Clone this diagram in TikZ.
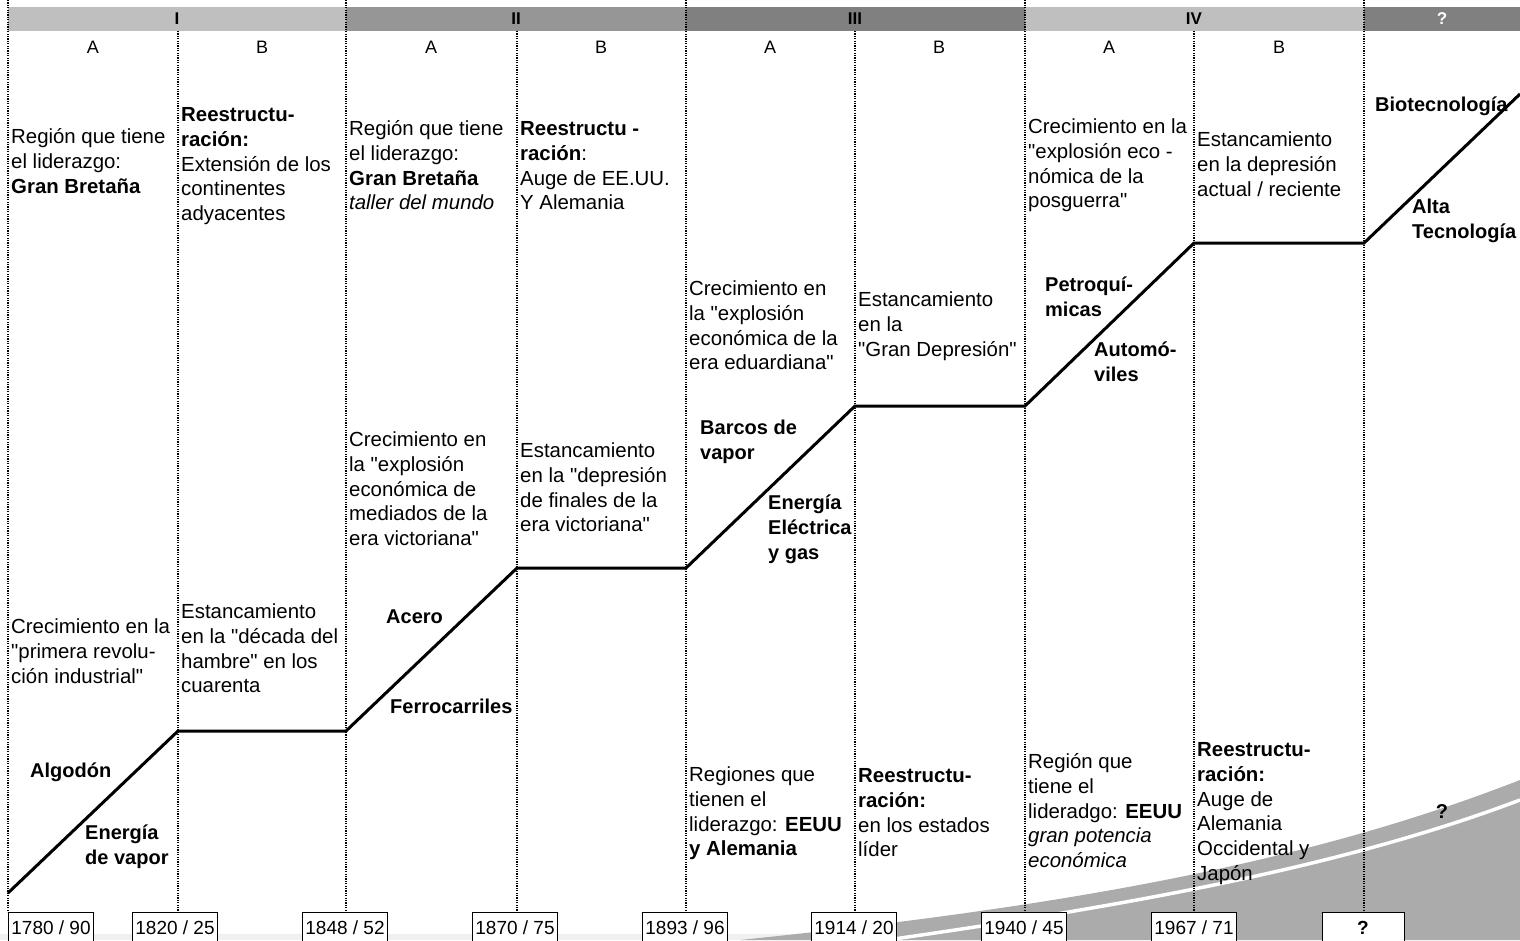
\documentclass[tikz,border=0pt]{standalone}
\usepackage{fontspec}
\setmainfont{Liberation Sans}[Ligatures=TeXOff]

\begin{document}
\begin{tikzpicture}[x=1pt,y=-1pt,
  txt/.style={anchor=north west, inner sep=0pt, align=left, font=\fontsize{20.4}{24.8}\selectfont},
  key/.style={txt, font=\fontsize{20}{24.8}\selectfont\bfseries},
  sep/.style={line width=1.2pt, dash pattern=on 1.2pt off 1.2pt},
  datebox/.style={draw, line width=0.8pt, fill=white, anchor=north, minimum height=30pt, inner xsep=3pt, font=\fontsize{19}{22}\selectfont},
  band/.style={font=\fontsize{17}{20}\selectfont\bfseries},
  phase/.style={font=\fontsize{18}{20}\selectfont}]

\useasboundingbox (0,0) rectangle (1520,940);

% grey swoosh at the bottom
\fill[black!6] (0,934) rectangle (1520,940);
\fill[black!33] (740,940) .. controls (1050,908) and (1300,866) .. (1520,780) -- (1520,940) -- cycle;
\draw[white, line width=3.5pt] (880,941) .. controls (1110,908) and (1335,870) .. (1520,800);

% header bar
\fill[black!25] (8,7) rectangle (346,31);
\fill[black!41] (346,7) rectangle (686,31);
\fill[black!50] (686,7) rectangle (1025,31);
\fill[black!25] (1025,7) rectangle (1364,31);
\fill[black!50] (1364,7) rectangle (1520,31);
\node[band] (hI) at (177,19) {I};
\node[band] (hII) at (516,19) {II};
\node[band] (hIII) at (855,19) {III};
\node[band] (hIV) at (1194,19) {IV};
\node[band, text=white] (hq) at (1442,19) {?};

% separators
\foreach \x in {8,346,686,1025,1364} \draw[sep] (\x,0) -- (\x,912);
\foreach \x in {178,517,855,1194} \draw[sep] (\x,31) -- (\x,912);

\foreach \x/\l [count=\i] in {93/A,262/B,431/A,601/B,770/A,939/B,1109/A,1279/B}
  \node[phase] (ph\i) at (\x,47) {\l};

% the long waves
\coordinate (s0) at (8,893);
\coordinate (s1) at (178,731);
\coordinate (s2) at (346,731);
\coordinate (s3) at (517,568);
\coordinate (s4) at (686,568);
\coordinate (s5) at (855,406);
\coordinate (s6) at (1025,406);
\coordinate (s7) at (1194,243);
\coordinate (s8) at (1364,243);
\coordinate (s9) at (1520,94);
\draw[line width=3pt] (s0) -- (s1) -- (s2) -- (s3) -- (s4) -- (s5) -- (s6) -- (s7) -- (s8) -- (s9);

% I A
\node[txt] (lead1) at (11,126) {\strut Región que tiene\\el liderazgo:\\\textbf{Gran Bretaña}};
\node[txt] (grow1) at (11,616) {\strut Crecimiento en la\\"primera revolu-\\ción industrial"};
\node[key] (algo) at (30,760) {\strut Algodón};
\node[key] (vap1) at (85,822) {\strut Energía\\de vapor};
% I B
\node[txt] (rest1) at (181,104) {\strut\textbf{Reestructu-}\\\textbf{ración:}\\Extensión de los\\continentes\\adyacentes};
\node[txt] (stag1) at (181,601) {\strut Estancamiento\\en la "década del\\hambre" en los\\cuarenta};
% II A
\node[txt] (lead2) at (349,118) {\strut Región que tiene\\el liderazgo:\\\textbf{Gran Bretaña}\\\textit{taller del mundo}};
\node[txt] (grow2) at (349,429) {\strut Crecimiento en\\la "explosión\\económica de\\mediados de la\\era victoriana"};
\node[key] (acero) at (386,606) {\strut Acero};
\node[key] (ferro) at (390,696) {\strut Ferrocarriles};
% II B
\node[txt] (rest2) at (520,118) {\strut\textbf{Reestructu -}\\\textbf{ración}:\\Auge de EE.UU.\\Y Alemania};
\node[txt] (stag2) at (520,440) {\strut Estancamiento\\en la "depresión\\de finales de la\\era victoriana"};
% III A
\node[txt] (grow3) at (689,278) {\strut Crecimiento en\\la "explosión\\económica de la\\era eduardiana"};
\node[key] (barcos) at (700,417) {\strut Barcos de\\vapor};
\node[key] (elec) at (768,492) {\strut Energía\\Eléctrica\\y gas};
\node[txt] (lead3) at (689,764) {\strut Regiones que\\tienen el\\liderazgo: \textbf{EEUU}\\\textbf{y Alemania}};
% III B
\node[txt] (stag3) at (858,289) {\strut Estancamiento\\en la\\"Gran Depresión"};
\node[txt] (rest3) at (858,765) {\strut\textbf{Reestructu-}\\\textbf{ración:}\\en los estados\\líder};
% IV A
\node[txt] (grow4) at (1028,116) {\strut Crecimiento en la\\"explosión eco -\\nómica de la\\posguerra"};
\node[key] (petro) at (1045,274) {\strut Petroquí-\\micas};
\node[key] (auto) at (1094,339) {\strut Automó-\\viles};
\node[txt] (lead4) at (1028,751) {\strut Región que\\tiene el\\lideradgo: \textbf{EEUU}\\\textit{gran potencia}\\\textit{económica}};
% IV B
\node[txt] (stag4) at (1197,129) {\strut Estancamiento\\en la depresión\\actual / reciente};
\node[txt] (rest4) at (1197,739) {\strut\textbf{Reestructu-}\\\textbf{ración:}\\Auge de\\Alemania\\Occidental y\\Japón};
% ?
\node[key] (bio) at (1375,94) {\strut Biotecnología};
\node[key] (alta) at (1412,196) {\strut Alta\\Tecnología};
\node[key, anchor=center] (next) at (1442,812) {?};

% dates
\node[datebox, anchor=north west] (d1) at (8,912) {1780 / 90};
\node[datebox] (d2) at (175,912) {1820 / 25};
\node[datebox] (d3) at (345,912) {1848 / 52};
\node[datebox] (d4) at (515,912) {1870 / 75};
\node[datebox] (d5) at (685,912) {1893 / 96};
\node[datebox] (d6) at (854,912) {1914 / 20};
\node[datebox] (d7) at (1024,912) {1940 / 45};
\node[datebox] (d8) at (1194,912) {1967 / 71};
\node[datebox, minimum width=82pt] (d9) at (1363,912) {\textbf{?}};
\end{tikzpicture}
\end{document}
